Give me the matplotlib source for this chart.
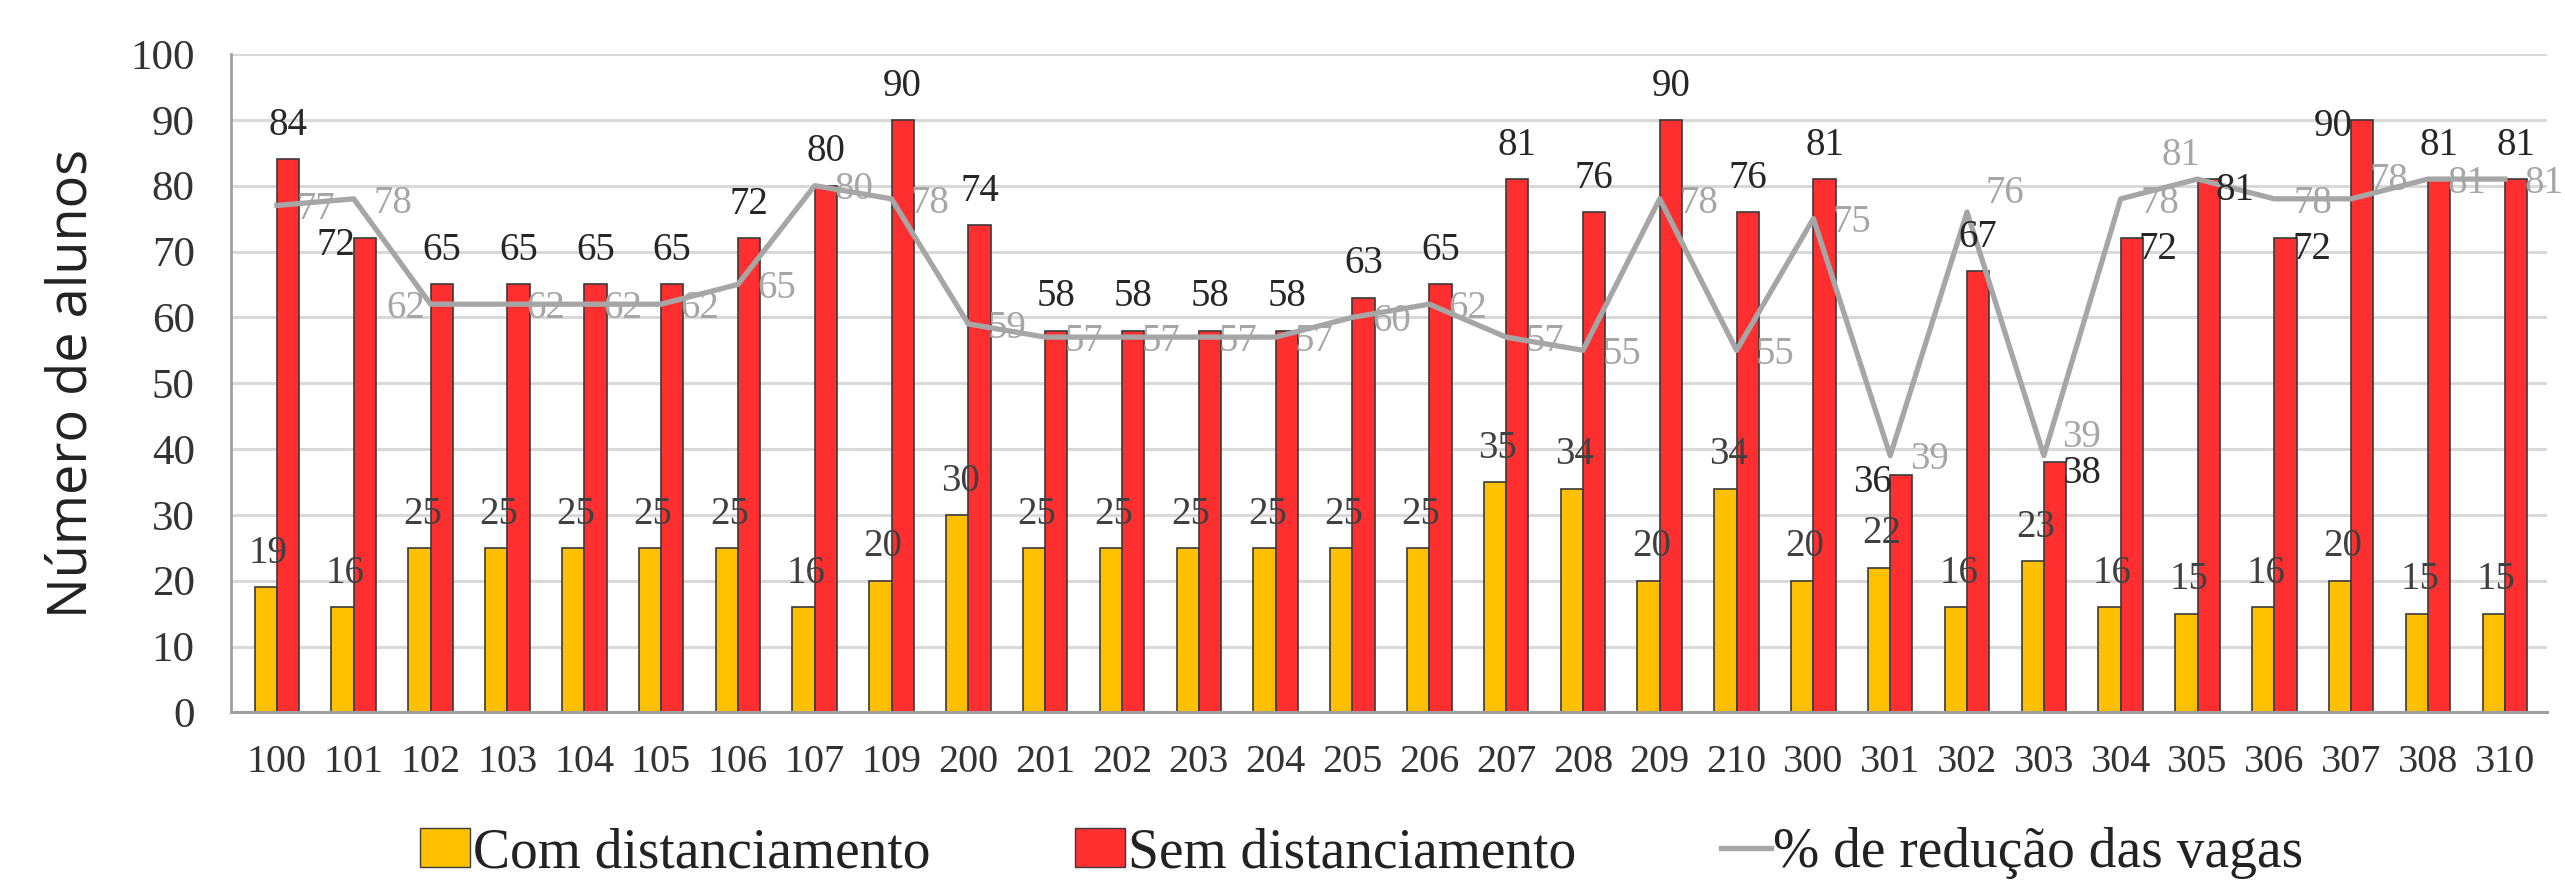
import numpy as np
import matplotlib.pyplot as plt
from matplotlib.lines import Line2D
from matplotlib.patches import Patch

salas = ["100", "101", "102", "103", "104", "105", "106", "107", "109", "200",
         "201", "202", "203", "204", "205", "206", "207", "208", "209", "210",
         "300", "301", "302", "303", "304", "305", "306", "307", "308", "310"]
com_dist = [19, 16, 25, 25, 25, 25, 25, 16, 20, 30,
            25, 25, 25, 25, 25, 25, 35, 34, 20, 34,
            20, 22, 16, 23, 16, 15, 16, 20, 15, 15]
sem_dist = [84, 72, 65, 65, 65, 65, 72, 80, 90, 74,
            58, 58, 58, 58, 63, 65, 81, 76, 90, 76,
            81, 36, 67, 38, 72, 81, 72, 90, 81, 81]
reducao = [77, 78, 62, 62, 62, 62, 65, 80, 78, 59,
           57, 57, 57, 57, 60, 62, 57, 55, 78, 55,
           75, 39, 76, 39, 78, 81, 78, 78, 81, 81]

# rótulos que no original ficam ao lado da barra / da linha
lado_sem = {"101": "left", "301": "left", "307": "left",
            "303": "right", "304": "right", "305": "right", "306": "right"}
lado_pct = {"102": "left", "305": "above", "302": "upright", "303": "upright", "307": "upright"}

AMARELO = "#FFC000"
VERMELHO = "#FF2F2F"
CINZA = "#A6A6A6"
serif = "Liberation Serif"

fig = plt.figure(figsize=(25.65, 8.85), dpi=100)
ax = fig.add_axes([0.090, 0.195, 0.903, 0.744])

x = np.arange(len(salas))
w = 0.29
ax.bar(x - w / 2, com_dist, w, color=AMARELO, edgecolor="#3a3a3a", linewidth=1.2, zorder=2)
ax.bar(x + w / 2, sem_dist, w, color=VERMELHO, edgecolor="#3a3a3a", linewidth=1.2, zorder=2)
ax.plot(x, reducao, color=CINZA, linewidth=3.8, zorder=3)

lbl = dict(textcoords="offset points", fontsize=28, family=serif, zorder=4)

for xi, v in zip(x, com_dist):
    ax.annotate(str(v), (xi - w / 2, v), xytext=(2, 11), ha="center", va="bottom",
                color="#404040", **lbl)

for s, xi, v in zip(salas, x, sem_dist):
    lado = lado_sem.get(s)
    if lado == "left":
        ax.annotate(str(v), (xi, v), xytext=(1, -5), ha="right", va="center",
                    color="#262626", **lbl)
    elif lado == "right":
        ax.annotate(str(v), (xi + w, v), xytext=(-3, -8), ha="left", va="center",
                    color="#262626", **lbl)
    else:
        ax.annotate(str(v), (xi + w / 2, v), xytext=(0, 11), ha="center", va="bottom",
                    color="#262626", **lbl)

for s, xi, v in zip(salas, x, reducao):
    lado = lado_pct.get(s)
    if lado == "left":
        ax.annotate(str(v), (xi, v), xytext=(-4, -3), ha="right", va="center",
                    color=CINZA, **lbl)
    elif lado == "above":
        ax.annotate(str(v), (xi, v), xytext=(-12, 4), ha="center", va="bottom",
                    color=CINZA, **lbl)
    elif lado == "upright":
        ax.annotate(str(v), (xi, v), xytext=(13, 13), ha="left", va="center",
                    color=CINZA, **lbl)
    else:
        ax.annotate(str(v), (xi, v), xytext=(14, -3), ha="left", va="center",
                    color=CINZA, **lbl)

ax.set_ylim(0, 100)
ax.set_xlim(-0.6, len(salas) - 0.45)
ax.set_yticks(range(0, 101, 10))
ax.set_xticks(x)
ax.set_xticklabels(salas)
ax.tick_params(axis="both", length=0, labelcolor="#333333")
ax.tick_params(axis="y", pad=26, labelsize=31)
ax.tick_params(axis="x", pad=23, labelsize=29)
for lab in ax.get_xticklabels() + ax.get_yticklabels():
    lab.set_family(serif)

ax.grid(axis="y", color="#D9D9D9", linewidth=2.2, zorder=0)
ax.set_axisbelow(True)
for s in ["top", "right"]:
    ax.spines[s].set_visible(False)
ax.spines["left"].set_color("#A0A0A0")
ax.spines["left"].set_linewidth(2)
ax.spines["bottom"].set_color("#A0A0A0")
ax.spines["bottom"].set_linewidth(2.2)

ax.set_ylabel("Número de alunos", fontsize=39, family="Open Sans", color="#222222", labelpad=22)

handles = [Patch(facecolor=AMARELO, edgecolor="#3a3a3a"),
           Patch(facecolor=VERMELHO, edgecolor="#3a3a3a"),
           Line2D([], [], color=CINZA, linewidth=3.8)]
fig.legend(handles, ["Com distanciamento", "Sem distanciamento", "% de redução das vagas"],
           loc="center", bbox_to_anchor=(0.531, 0.036), ncol=3, frameon=False,
           prop={"family": serif, "size": 40}, handlelength=0.9, handletextpad=0.05,
           columnspacing=2.6, labelcolor="#222222")

fig.savefig("out.png", dpi=100)
